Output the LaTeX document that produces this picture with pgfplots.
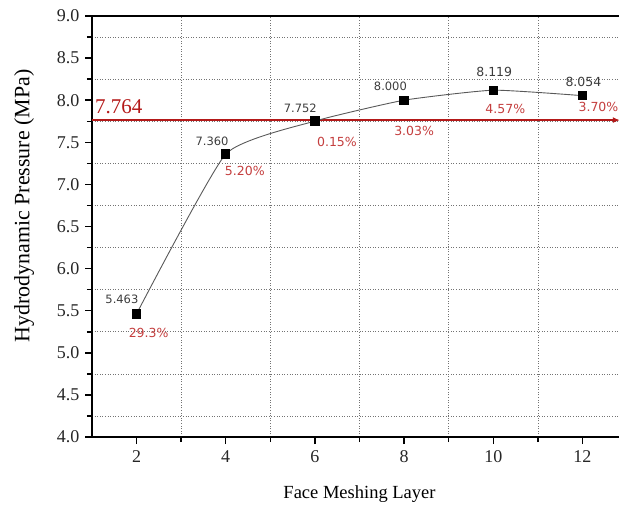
\documentclass[border=0pt]{standalone}
\usepackage{fontspec}
\setmainfont{Liberation Serif}
\newfontfamily\labfont{DejaVu Sans}
\usepackage{pgfplots}
\pgfplotsset{compat=1.18}
\usetikzlibrary{arrows.meta}
\definecolor{refred}{RGB}{180,25,25}
\definecolor{pctred}{RGB}{196,62,62}
\definecolor{lblgray}{RGB}{60,60,60}
\begin{document}
\begin{tikzpicture}
\begin{axis}[
  scale only axis, width=535pt, height=421pt,
  xmin=1, xmax=13, ymin=4, ymax=9,
  xtick={2,4,...,12}, ytick={4,4.5,...,9},
  minor xtick={3,5,...,11}, minor ytick={4.25,4.75,...,8.75},
  grid=minor,
  minor grid style={black!55, line width=0.6pt, dash pattern=on 1pt off 1.6pt},
  tick pos=left, tick align=outside,
  major tick length=7pt, minor tick length=5pt,
  every tick/.style={black, line width=1.5pt},
  axis line style={black, line width=1.8pt},
  yticklabel style={/pgf/number format/fixed, /pgf/number format/fixed zerofill, /pgf/number format/precision=1, xshift=-2pt},
  /pgf/number format/assume math mode=true,
  tick label style={font=\fontsize{18}{20}\selectfont, text=black!85},
  xticklabel style={yshift=-3pt},
  xlabel={Face Meshing Layer},
  ylabel={Hydrodynamic Pressure (MPa)},
  xlabel style={font=\fontsize{18.5}{20}\selectfont, at={(axis description cs:0.5,0)}, anchor=base, yshift=-61pt},
  ylabel style={font=\fontsize{21.9}{23}\selectfont, at={(axis description cs:-0.127,0.549)}, anchor=center},
  clip=false,
]
\coordinate (O) at (rel axis cs:0,0);
% reference value line
\addplot[refred, line width=1.6pt, -{Latex[length=7pt,width=6pt]}] coordinates {(1,7.764) (12.84,7.764)};
% data
\addplot[black!65, line width=0.9pt, smooth, tension=0.28, mark=square*, mark size=4.2pt,
  mark options={black, solid, fill=black}] coordinates {
  (2,5.463) (4,7.360) (6,7.752) (8,8.000) (10,8.119) (12,8.054)};
% value labels
\begin{scope}[every node/.style={font=\labfont\fontsize{11.5}{12}\selectfont, text=lblgray, inner sep=0pt}]
\node[anchor=south east] at ([xshift=2pt,yshift=10pt]axis cs:2,5.463) {5.463};
\node[anchor=south east] at ([xshift=3pt,yshift=8pt]axis cs:4,7.360) {7.360};
\node[anchor=south east] at ([xshift=2pt,yshift=8pt]axis cs:6,7.752) {7.752};
\node[anchor=south east] at ([xshift=3pt,yshift=9pt]axis cs:8,8.000) {8.000};
\node[anchor=south, font=\labfont\fontsize{12.5}{13}\selectfont] at ([xshift=1pt,yshift=13pt]axis cs:10,8.119) {8.119};
\node[anchor=south, font=\labfont\fontsize{12.5}{13}\selectfont] at ([xshift=1pt,yshift=9pt]axis cs:12,8.054) {8.054};
\end{scope}
% percent labels
\begin{scope}[every node/.style={font=\labfont\fontsize{12.5}{13}\selectfont, text=pctred, inner sep=0pt}]
\node[anchor=north west] at ([xshift=-8pt,yshift=-14pt]axis cs:2,5.463) {29.3\%};
\node[anchor=north west] at ([xshift=-1pt,yshift=-12pt]axis cs:4,7.360) {5.20\%};
\node[anchor=north west] at ([xshift=2pt,yshift=-16pt]axis cs:6,7.752) {0.15\%};
\node[anchor=north west] at ([xshift=-10pt,yshift=-26pt]axis cs:8,8.000) {3.03\%};
\node[anchor=north west] at ([xshift=-8pt,yshift=-14pt]axis cs:10,8.119) {4.57\%};
\node[anchor=north west] at ([xshift=-4pt,yshift=-6pt]axis cs:12,8.054) {3.70\%};
\end{scope}
\node[anchor=south west, inner sep=0pt, text=refred, font=\fontsize{21}{22}\selectfont] at ([xshift=3pt,yshift=6pt]axis cs:1,7.764) {7.764};
\end{axis}
\pgfresetboundingbox
\path[use as bounding box] (O) ++(-92pt,-67pt) rectangle ++(619pt,504pt);
\end{tikzpicture}
\end{document}
